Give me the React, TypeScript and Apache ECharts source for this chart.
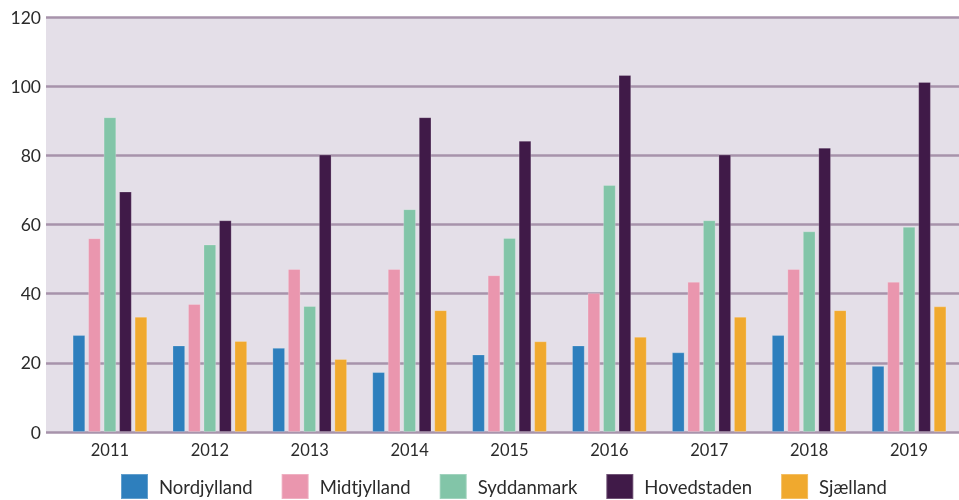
import React, { useEffect, useRef } from "react";
import * as echarts from "echarts";

const years = ["2011", "2012", "2013", "2014", "2015", "2016", "2017", "2018", "2019"];
const seriesNames = ["Nordjylland", "Midtjylland", "Syddanmark", "Hovedstaden", "Sjælland"];
const nordjylland = [28, 25, 24.3, 17.3, 22.4, 25, 23, 28, 19.1];
const midtjylland = [56, 37, 47.1, 47.1, 45.3, 40.2, 43.4, 47.1, 43.4];
const syddanmark = [91, 54.2, 36.4, 64.4, 56.1, 71.4, 61.2, 58, 59.3];
const hovedstaden = [69.5, 61.2, 80.2, 91, 84.2, 103.2, 80.2, 82.2, 101.2];
const sjaelland = [33.3, 26.3, 21.1, 35.2, 26.2, 27.5, 33.3, 35.2, 36.3];
const colors = ["#2e7fbd", "#ea96ae", "#82c5a8", "#401a48", "#f0a92e"];
const yTicks = [0, 20, 40, 60, 80, 100, 120];

export default function App() {
  const ref = useRef<HTMLDivElement>(null);
  useEffect(() => {
    if (!ref.current) return;
    const chart = echarts.init(ref.current, undefined, { renderer: "svg" });
    const values = [nordjylland, midtjylland, syddanmark, hovedstaden, sjaelland];
    const font = "Lato";
    chart.setOption({
      animation: false,
      textStyle: { fontFamily: font },
      grid: [
        { left: 46, right: 0, top: 17, bottom: 68, show: true, backgroundColor: "#e4dfe8", borderWidth: 0 },
        { left: 60, right: -1, top: 17, bottom: 68 },
      ],
      xAxis: [
        { type: "category", gridIndex: 0, data: years, show: false },
        {
          type: "category",
          gridIndex: 1,
          data: years,
          axisLine: { show: false },
          axisTick: { show: false },
          axisLabel: { color: "#2b2b2b", fontSize: 16.5, margin: 9, fontFamily: font },
        },
      ],
      yAxis: [
        {
          type: "value",
          gridIndex: 0,
          min: yTicks[0],
          max: yTicks[yTicks.length - 1],
          interval: 20,
          axisLine: { show: false },
          axisTick: { show: false },
          axisLabel: { color: "#2b2b2b", fontSize: 17.5, margin: 5, fontFamily: font },
          splitLine: { show: true, lineStyle: { color: "#a793ab", width: 2.5 } },
        },
        {
          type: "value",
          gridIndex: 1,
          min: yTicks[0],
          max: yTicks[yTicks.length - 1],
          interval: 20,
          show: false,
          splitLine: { show: false },
        },
      ],
      legend: {
        top: 473,
        left: 120,
        padding: 0,
        itemWidth: 27,
        itemHeight: 25,
        itemGap: 28,
        icon: "rect",
        textStyle: { fontSize: 18.5, color: "#2b2b2b", fontFamily: font, padding: [0, 0, 0, 6] },
        data: seriesNames,
      },
      series: seriesNames.map((name, i) => ({
        name,
        type: "bar",
        xAxisIndex: 1,
        yAxisIndex: 1,
        data: values[i],
        barWidth: 12.5,
        barGap: "24%",
        itemStyle: { color: colors[i], borderColor: "rgba(255,255,255,0.25)", borderWidth: 0.8 },
      })),
    });
    return () => chart.dispose();
  }, []);
  return <div ref={ref} style={{ position: "fixed", left: 0, top: 0, width: 959, height: 500 }} />;
}
